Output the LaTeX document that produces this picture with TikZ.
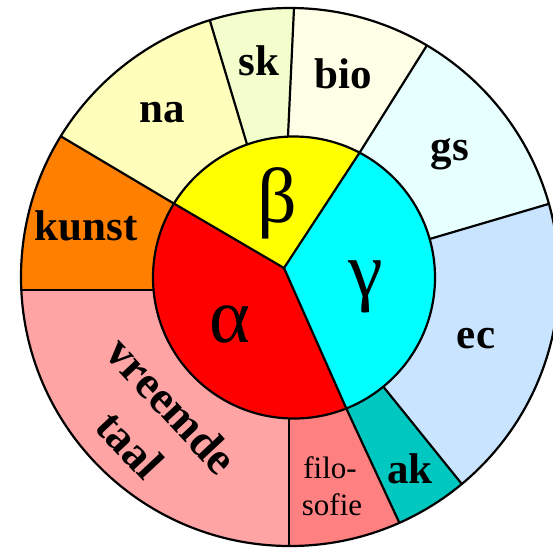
\documentclass[tikz,border=0pt]{standalone}
\usepackage{fontspec}
\setmainfont{Liberation Serif}
\usetikzlibrary{calc}
\definecolor{kunstkl}{RGB}{255,128,0}
\definecolor{nakl}{RGB}{255,255,187}
\definecolor{skkl}{RGB}{242,255,204}
\definecolor{biokl}{RGB}{255,255,232}
\definecolor{gskl}{RGB}{232,255,255}
\definecolor{eckl}{RGB}{200,228,255}
\definecolor{akkl}{RGB}{0,200,192}
\definecolor{filokl}{RGB}{255,128,128}
\definecolor{taalkl}{RGB}{255,164,164}
\definecolor{alfakl}{RGB}{255,0,0}
\definecolor{betakl}{RGB}{255,255,0}
\definecolor{gammakl}{RGB}{0,255,255}

\begin{document}
\begin{tikzpicture}[x=1pt,y=-1pt,
  lijn/.style={line width=2.2pt,line join=round},
  vak/.style={font=\fontsize{43}{50}\selectfont\bfseries,inner sep=0pt,anchor=base},
  klein/.style={font=\fontsize{31}{37}\selectfont,inner sep=0pt,anchor=base},
  griek/.style={font=\fontsize{78}{80}\selectfont,inner sep=0pt,anchor=base}]
\useasboundingbox (0,0) rectangle (553,550);
\clip (0,0) rectangle (553,550);
% middelpunten
\coordinate (M) at (290,277);   % buitenste cirkel
\coordinate (I) at (294,277.5); % binnenste cirkel
\coordinate (O) at (284,268);   % punt van de taart
% grenzen in de ring: binnen (a), buiten (b), ver weg (v)
\foreach \n/\ax/\ay/\bx/\by in {1/173/203/62/137, 2/246/141/210/21, 3/288/136/294/8,
    4/360/152/424/50, 5/433/238/545/205, 6/386/390/461/483, 7/347/410/399/522,
    8/289/418/289/546, 9/153/290/21/290} {
  \coordinate (a\n) at (\ax,\ay);
  \coordinate (b\n) at (\bx,\by);
  \coordinate (v\n) at ($(a\n)!3!(b\n)$);
}
\begin{scope}
  \clip (M) circle (269);
  \foreach \i/\j/\kl in {9/1/kunstkl, 1/2/nakl, 2/3/skkl, 3/4/biokl, 4/5/gskl,
      5/6/eckl, 6/7/akkl, 7/8/filokl, 8/9/taalkl}
    \fill[\kl] (I) -- (a\i) -- (v\i) -- (v\j) -- (a\j) -- cycle;
  \foreach \n in {1,...,9}
    \draw[lijn] ($(a\n)!-0.1!(b\n)$) -- (v\n);
\end{scope}
\draw[lijn] (M) circle (269);
% de taart in het midden
\begin{scope}
  \clip (I) circle (141);
  \fill[alfakl] (O) -- ($(O)!2!(a1)$) -- (0,560) -- ($(O)!2!(a7)$) -- cycle;
  \fill[betakl] (O) -- ($(O)!2!(a1)$) -- ($(O)!2!(a4)$) -- cycle;
  \fill[gammakl] (O) -- ($(O)!2!(a4)$) -- (560,277) -- ($(O)!2!(a7)$) -- cycle;
  \foreach \n in {1,4,7}
    \draw[lijn] (O) -- ($(O)!2!(a\n)$);
\end{scope}
\draw[lijn] (I) circle (141);
% teksten
\node[vak] (kunst) at (86,240) {kunst};
\node[vak] (na) at (162,122) {na};
\node[vak] (sk) at (259,75) {sk};
\node[vak] (bio) at (343,88) {bio};
\node[vak] (gs) at (450,160) {gs};
\node[vak] (ec) at (476,348) {ec};
\node[vak] (ak) at (410,483) {ak};
\node[klein] (filo) at (330,478) {filo-};
\node[klein] (sofie) at (332,515) {sofie};
\node[vak,anchor=center,align=center,rotate=-47,font=\fontsize{46}{57}\selectfont\bfseries]
  (taal) at (151,425) {vreemde\\taal};
\node[griek] (alfa) at (230,342) {α};
\node[griek] (beta) at (277,222) {β};
\node[griek] (gamma) at (366,296) {γ};
\end{tikzpicture}
\end{document}
